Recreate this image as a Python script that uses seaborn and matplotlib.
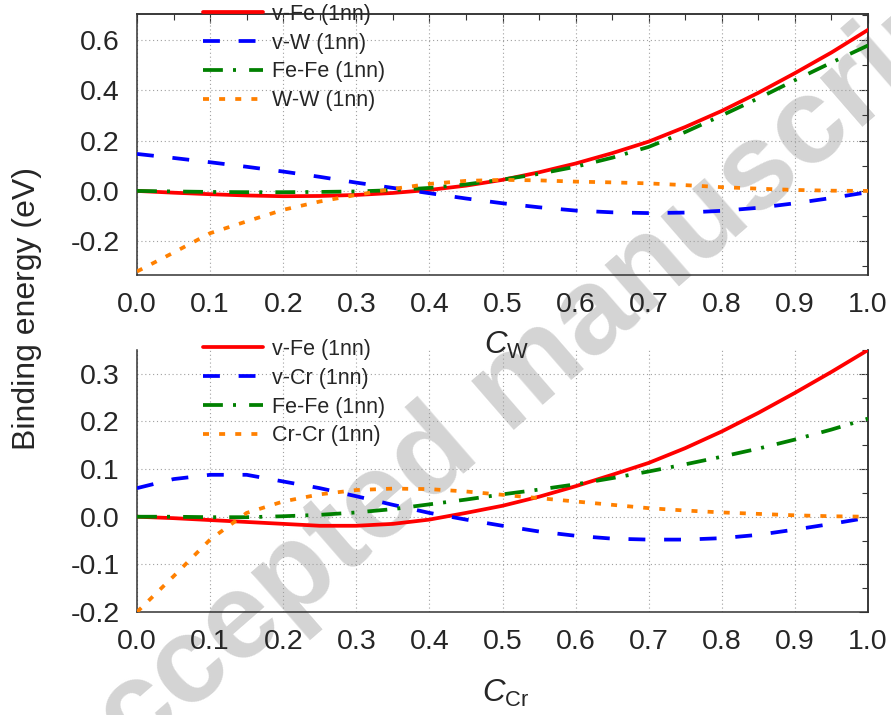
import numpy as np
import pandas as pd
import matplotlib
matplotlib.use("Agg")
import matplotlib.pyplot as plt
from matplotlib.ticker import MultipleLocator
import seaborn as sns

# ------------------------------------------------------------
# Datos (energía de enlace en eV)
# ------------------------------------------------------------
conc = [0.00, 0.05, 0.10, 0.15, 0.20, 0.25, 0.30, 0.35, 0.40, 0.45, 0.50,
        0.55, 0.60, 0.65, 0.70, 0.75, 0.80, 0.85, 0.90, 0.95, 1.00]

# panel superior: Fe-W
w_vfe = [0.000, -0.007, -0.013, -0.018, -0.021, -0.020, -0.016, -0.008, 0.004, 0.021, 0.044,
         0.074, 0.109, 0.150, 0.196, 0.254, 0.318, 0.390, 0.468, 0.550, 0.640]
w_vw = [0.147, 0.131, 0.114, 0.096, 0.077, 0.056, 0.033, 0.012, -0.009, -0.030, -0.049,
        -0.065, -0.078, -0.085, -0.088, -0.086, -0.079, -0.067, -0.049, -0.028, -0.005]
w_fefe = [0.000, -0.002, -0.004, -0.005, -0.005, -0.004, -0.002, 0.003, 0.012, 0.026, 0.045,
          0.068, 0.096, 0.132, 0.175, 0.234, 0.300, 0.368, 0.440, 0.510, 0.578]
w_ww = [-0.320, -0.245, -0.168, -0.121, -0.075, -0.042, -0.016, 0.008, 0.028, 0.040, 0.044,
        0.042, 0.037, 0.034, 0.030, 0.023, 0.015, 0.009, 0.004, 0.001, 0.000]

# panel inferior: Fe-Cr
cr_vfe = [0.000, -0.003, -0.007, -0.011, -0.015, -0.019, -0.019, -0.015, -0.006, 0.008, 0.023,
          0.042, 0.064, 0.088, 0.113, 0.144, 0.179, 0.218, 0.260, 0.304, 0.350]
cr_vcr = [0.060, 0.079, 0.088, 0.088, 0.074, 0.060, 0.043, 0.025, 0.008, -0.006, -0.019,
          -0.031, -0.040, -0.046, -0.048, -0.048, -0.045, -0.038, -0.027, -0.015, -0.002]
cr_fefe = [0.000, 0.000, -0.001, -0.001, 0.001, 0.004, 0.009, 0.016, 0.026, 0.036, 0.047,
           0.057, 0.068, 0.081, 0.095, 0.110, 0.126, 0.143, 0.162, 0.183, 0.206]
cr_crcr = [-0.200, -0.125, -0.048, 0.008, 0.032, 0.047, 0.056, 0.059, 0.058, 0.053, 0.046,
           0.039, 0.032, 0.025, 0.018, 0.013, 0.009, 0.006, 0.003, 0.001, 0.000]

labels_w = ["v-Fe (1nn)", "v-W (1nn)", "Fe-Fe (1nn)", "W-W (1nn)"]
labels_cr = ["v-Fe (1nn)", "v-Cr (1nn)", "Fe-Fe (1nn)", "Cr-Cr (1nn)"]

# estilos (color, patrón de línea)
colores = ["#ff0000", "#0000ff", "#008000", "#ff8000"]
estilos = ["-", (0, (4.5, 5)), (0, (5.3, 2.7, 0.8, 3.5)), (0, (1.6, 2.7))]

# ------------------------------------------------------------
# Configuración general
# ------------------------------------------------------------
sns.set_style("white")
plt.rcParams["font.family"] = ["Liberation Sans", "DejaVu Sans"]
plt.rcParams["mathtext.fontset"] = "custom"
plt.rcParams["mathtext.rm"] = "Liberation Sans"
plt.rcParams["mathtext.it"] = "Liberation Sans:italic"

fig = plt.figure(figsize=(8.91, 7.15), dpi=100)
ax_w = fig.add_axes([137 / 891, 1 - 275 / 715, 731 / 891, 261 / 715])
ax_cr = fig.add_axes([137 / 891, 1 - 612 / 715, 731 / 891, 262 / 715])

# marca de agua
fig.text(516 / 891, 1 - 386 / 715, "Accepted manuscript", fontsize=88, fontweight="bold",
         color="#d4d4d4", rotation=41, ha="center", va="center",
         rotation_mode="anchor", zorder=-1)


def dibujar_panel(ax, series, etiquetas, ylim, ymaj, ymin, top_spine):
    ax.patch.set_alpha(0)
    for y, lab, col, ls in zip(series, etiquetas, colores, estilos):
        df = pd.DataFrame({"c": conc, "e": y})
        sns.lineplot(data=df, x="c", y="e", ax=ax, color=col, linestyle=ls,
                     linewidth=2.7, label=lab, zorder=3)
    ax.set_xlim(0, 1)
    ax.set_ylim(*ylim)
    ax.set_xlabel("")
    ax.set_ylabel("")
    ax.xaxis.set_major_locator(MultipleLocator(0.1))
    ax.xaxis.set_minor_locator(MultipleLocator(0.05))
    ax.yaxis.set_major_locator(MultipleLocator(ymaj))
    ax.yaxis.set_minor_locator(MultipleLocator(ymin))
    ax.xaxis.set_major_formatter(lambda v, p: f"{v:.1f}")
    ax.yaxis.set_major_formatter(lambda v, p: f"{v:.1f}")
    ax.tick_params(axis="both", which="major", direction="out", length=6.5, width=0.8,
                   labelsize=20.5, pad=6, color="#333333", top=False, right=False)
    ax.tick_params(axis="both", which="minor", direction="out", length=4.3, width=0.8,
                   color="#333333", top=False, right=False)
    ax.grid(True, which="major", linestyle=(0, (1, 2.5)), color="#a0a0a0", linewidth=0.8)
    for s in ax.spines.values():
        s.set_color("#333333")
        s.set_linewidth(1.1)
    ax.spines["top"].set_visible(top_spine)

    # ticks hacia dentro en el eje derecho (y superior)
    sec_y = ax.secondary_yaxis("right")
    sec_y.yaxis.set_major_locator(MultipleLocator(ymaj))
    sec_y.yaxis.set_minor_locator(MultipleLocator(ymin))
    sec_y.tick_params(which="major", direction="in", length=6.5, width=0.8,
                      labelright=False, color="#333333")
    sec_y.tick_params(which="minor", direction="in", length=4.3, width=0.8, color="#333333")
    sec_y.spines["right"].set_color("#333333")
    sec_y.spines["right"].set_linewidth(1.1)
    if top_spine:
        sec_x = ax.secondary_xaxis("top")
        sec_x.xaxis.set_major_locator(MultipleLocator(0.1))
        sec_x.xaxis.set_minor_locator(MultipleLocator(0.05))
        sec_x.tick_params(which="major", direction="in", length=6.5, width=0.8,
                          labeltop=False, color="#333333")
        sec_x.tick_params(which="minor", direction="in", length=4.3, width=0.8, color="#333333")
        sec_x.spines["top"].set_color("#333333")
        sec_x.spines["top"].set_linewidth(1.1)
    ax.get_legend().remove()


dibujar_panel(ax_w, [w_vfe, w_vw, w_fefe, w_ww], labels_w, (-0.334, 0.703), 0.2, 0.1, True)
dibujar_panel(ax_cr, [cr_vfe, cr_vcr, cr_fefe, cr_crcr], labels_cr, (-0.2, 0.35), 0.1, 0.05, False)

# leyendas sin marco
for ax, y_top in [(ax_w, 4), (ax_cr, 339)]:
    h, l = ax.get_legend_handles_labels()
    ax.legend(h, l, loc="upper left", bbox_to_anchor=(203 / 891, 1 - y_top / 715),
              bbox_transform=fig.transFigure, frameon=False, fontsize=15.5,
              handlelength=2.8, handletextpad=0.4, labelspacing=0.36,
              borderpad=0, borderaxespad=0)

# etiquetas de ejes
fig.text(507 / 891, 1 - 345 / 715, r"$\mathit{C}_{\mathrm{W}}$", fontsize=22.5,
         ha="center", va="center")
fig.text(506 / 891, 1 - 693 / 715, r"$\mathit{C}_{\mathrm{Cr}}$", fontsize=22.5,
         ha="center", va="center")
fig.text(27 / 891, 1 - 309 / 715, "Binding energy (eV)", fontsize=23, rotation=90,
         ha="center", va="center")

fig.savefig("out.png", dpi=100)
